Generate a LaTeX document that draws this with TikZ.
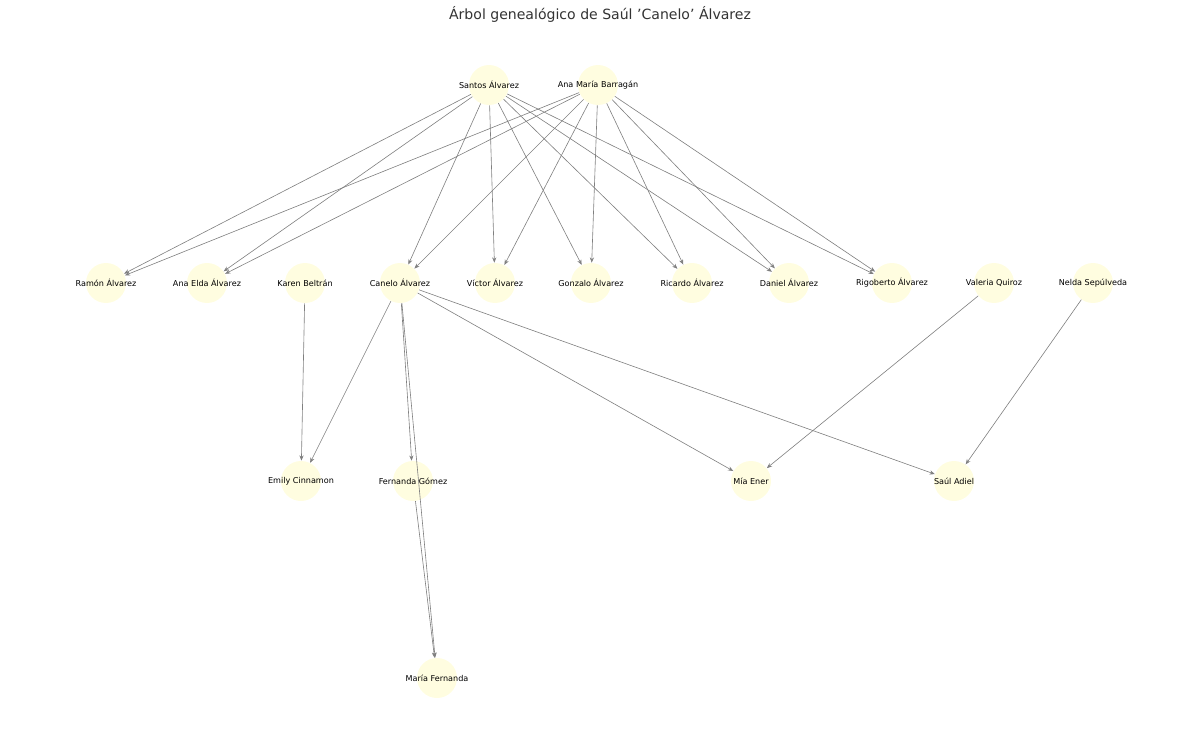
\documentclass[tikz,border=0pt]{standalone}
\usepackage{fontspec}
\setmainfont{DejaVu Sans}
\usetikzlibrary{arrows.meta}
\begin{document}
\begin{tikzpicture}[
        x=0.02cm, y=-0.02cm,
        person/.style={circle, fill=yellow!12, minimum size=0.8cm, inner sep=0pt,
            label={[font=\fontsize{4.6}{5}\selectfont, text=black]center:#1}},
        arrow/.style={-{Stealth[length=3pt, width=2.4pt]}, draw=gray, line width=0.35pt}
    ]
        \useasboundingbox (0,0) rectangle (1200,747);
        \node[font=\fontsize{8}{9}\selectfont, text=black!80] (title) at (600,14) {Árbol genealógico de Saúl 'Canelo' Álvarez};

        % Padres
        \node[person={Santos Álvarez}] (santos) at (489,85) {};
        \node[person={Ana María Barragán}] (anamaria) at (598,85) {};

        % Hijos
        \node[person={Ramón Álvarez}] (ramon) at (106,283) {};
        \node[person={Ana Elda Álvarez}] (anaelda) at (207,283) {};
        \node[person={Karen Beltrán}] (karen) at (305,283) {};
        \node[person={Canelo Álvarez}] (canelo) at (400,283) {};
        \node[person={Víctor Álvarez}] (victor) at (495,283) {};
        \node[person={Gonzalo Álvarez}] (gonzalo) at (591,283) {};
        \node[person={Ricardo Álvarez}] (ricardo) at (692,283) {};
        \node[person={Daniel Álvarez}] (daniel) at (789,283) {};
        \node[person={Rigoberto Álvarez}] (rigoberto) at (892,283) {};
        \node[person={Valeria Quiroz}] (valeria) at (994,283) {};
        \node[person={Nelda Sepúlveda}] (nelda) at (1093,283) {};

        % Nietos
        \node[person={Emily Cinnamon}] (emily) at (301,481) {};
        \node[person={Fernanda Gómez}] (fernanda) at (413,481) {};
        \node[person={Mía Ener}] (mia) at (751,481) {};
        \node[person={Saúl Adiel}] (saul) at (954,481) {};
        \node[person={María Fernanda}] (mariaf) at (437,678) {};

        % Aristas
        \foreach \p in {santos, anamaria}
            \foreach \c in {ramon, anaelda, canelo, victor, gonzalo, ricardo, daniel, rigoberto}
                \draw[arrow] (\p) -- (\c);
        \draw[arrow] (karen) -- (emily);
        \foreach \c in {emily, fernanda, mia, saul, mariaf}
            \draw[arrow] (canelo) -- (\c);
        \draw[arrow] (fernanda) -- (mariaf);
        \draw[arrow] (valeria) -- (mia);
        \draw[arrow] (nelda) -- (saul);
    \end{tikzpicture}
\end{document}
